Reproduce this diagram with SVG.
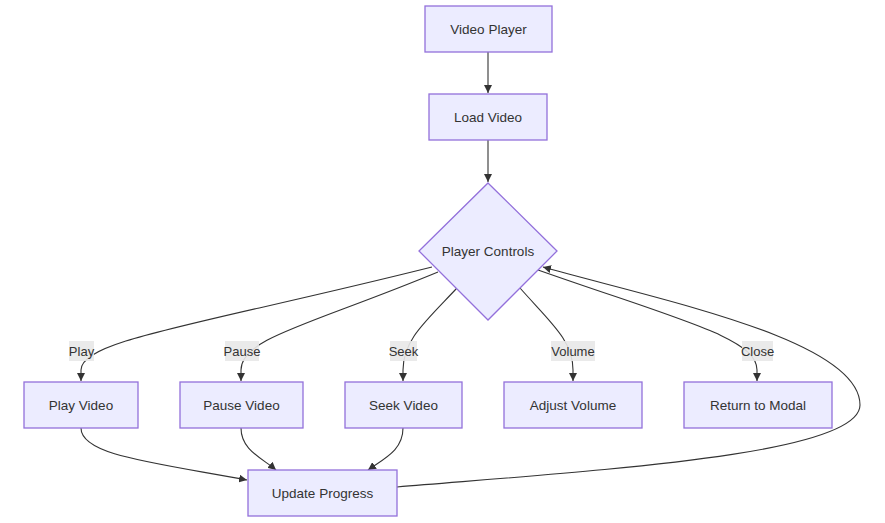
<svg xmlns="http://www.w3.org/2000/svg" width="885" height="523" viewBox="0 0 885 523">
<style>
.node rect,.node polygon{fill:#ECECFF;stroke:#9370DB;stroke-width:1.3}
.node text{font-family:"Liberation Sans",Arial,sans-serif;font-size:13.5px;fill:#333;text-anchor:middle;dominant-baseline:central}
.edges path{fill:none;stroke:#333;stroke-width:1.1}
.lbl rect{fill:#e8e8e8;fill-opacity:0.9;stroke:none}
.lbl text{font-family:"Liberation Sans",Arial,sans-serif;font-size:13px;fill:#333;text-anchor:middle;dominant-baseline:central}
</style>
<defs>
<marker id="arr" viewBox="0 0 10 10" refX="10" refY="5" markerWidth="8" markerHeight="8" markerUnits="userSpaceOnUse" orient="auto">
<path d="M0,0 L10,5 L0,10 z" fill="#333"/>
</marker>
</defs>
<rect width="885" height="523" fill="#fff"/>
<g class="edges">
<path d="M488,52 L488,93" marker-end="url(#arr)"/>
<path d="M488,140 L488,182" marker-end="url(#arr)"/>
<path d="M432,267 C200,325 81,340 81,370 L81,381" marker-end="url(#arr)"/>
<path d="M438,272 C310,325 241,338 241,370 L241,381" marker-end="url(#arr)"/>
<path d="M457,288 C425,322 403,340 403,370 L403,381" marker-end="url(#arr)"/>
<path d="M520,288 C550,322 573,340 573,370 L573,381" marker-end="url(#arr)"/>
<path d="M538,270 C680,320 757,338 757,370 L757,381" marker-end="url(#arr)"/>
<path d="M81,428 C81,455 150,462 247,480" marker-end="url(#arr)"/>
<path d="M241,428 C241,450 262,458 276,470" marker-end="url(#arr)"/>
<path d="M403,428 C403,450 385,458 368,470" marker-end="url(#arr)"/>
<path d="M397,487 C600,470 860,455 860,405 C860,340 660,300 543,267" marker-end="url(#arr)"/>
</g>
<g class="lbl">
<g id="lbl-play"><rect x="69" y="341" width="25" height="20"/><text x="81.5" y="351">Play</text></g>
<g id="lbl-pause"><rect x="225" y="341" width="34" height="20"/><text x="242" y="351">Pause</text></g>
<g id="lbl-seek"><rect x="390" y="341" width="27" height="20"/><text x="403.5" y="351">Seek</text></g>
<g id="lbl-volume"><rect x="551" y="341" width="44" height="20"/><text x="573" y="351">Volume</text></g>
<g id="lbl-close"><rect x="742" y="341" width="31" height="20"/><text x="757.5" y="351">Close</text></g>
</g>
<g id="videoPlayer" class="node"><rect x="425" y="6" width="127" height="46"/><text x="488.5" y="29">Video Player</text></g>
<g id="loadVideo" class="node"><rect x="429" y="94" width="118" height="46"/><text x="488" y="117">Load Video</text></g>
<g id="playerControls" class="node"><polygon points="488,183 557,251 488,320 419,251"/><text x="488" y="251">Player Controls</text></g>
<g id="playVideo" class="node"><rect x="24" y="382" width="114" height="46"/><text x="81" y="405">Play Video</text></g>
<g id="pauseVideo" class="node"><rect x="180" y="382" width="123" height="46"/><text x="241.5" y="405">Pause Video</text></g>
<g id="seekVideo" class="node"><rect x="345" y="382" width="117" height="46"/><text x="403.5" y="405">Seek Video</text></g>
<g id="adjustVolume" class="node"><rect x="504" y="382" width="138" height="46"/><text x="573" y="405">Adjust Volume</text></g>
<g id="returnModal" class="node"><rect x="684" y="382" width="148" height="46"/><text x="758" y="405">Return to Modal</text></g>
<g id="updateProgress" class="node"><rect x="248" y="470" width="149" height="46"/><text x="322.5" y="493">Update Progress</text></g>
</svg>
